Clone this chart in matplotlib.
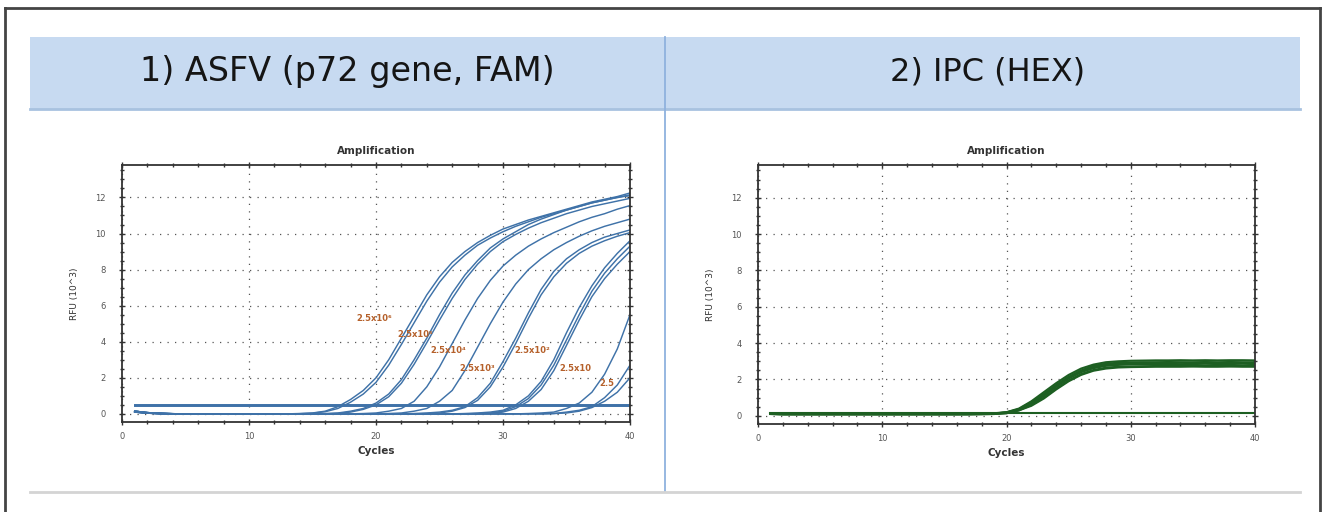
import matplotlib
matplotlib.use("Agg")
import matplotlib.pyplot as plt
from matplotlib.patches import Rectangle
from matplotlib.lines import Line2D
from matplotlib.ticker import MultipleLocator

# ── data (RFU x10^3, one value per cycle) ─────────────────────────────────────
CYCLES = list(range(1, 41))

# left panel: ASFV p72 dilution series (FAM)
asfv_a1 = [0.15, 0.07, 0.03, 0.01, 0.0, 0.0, 0.0, 0.0, 0.0, 0.0,
           0.0, 0.0, 0.0, 0.02, 0.05, 0.15, 0.4, 0.8, 1.3, 2.0,
           3.0, 4.2, 5.4, 6.6, 7.6, 8.4, 9.0, 9.5, 9.9, 10.25,
           10.5, 10.75, 10.95, 11.15, 11.35, 11.55, 11.75, 11.9, 12.05, 12.25]
asfv_a2 = [0.12, 0.05, 0.02, 0.0, 0.0, 0.0, 0.0, 0.0, 0.0, 0.0,
           0.0, 0.0, 0.0, 0.01, 0.04, 0.12, 0.3, 0.65, 1.1, 1.75,
           2.7, 3.85, 5.05, 6.25, 7.3, 8.15, 8.8, 9.35, 9.75, 10.1,
           10.4, 10.65, 10.9, 11.1, 11.3, 11.5, 11.7, 11.85, 12.0, 12.15]
asfv_b1 = [0.15, 0.07, 0.03, 0.01, 0.0, 0.0, 0.0, 0.0, 0.0, 0.0,
           0.0, 0.0, 0.0, 0.0, 0.0, 0.02, 0.05, 0.15, 0.3, 0.6,
           1.1, 1.9, 3.0, 4.2, 5.5, 6.7, 7.7, 8.5, 9.2, 9.7,
           10.1, 10.5, 10.8, 11.05, 11.3, 11.5, 11.7, 11.85, 12.0, 12.1]
asfv_b2 = [0.1, 0.04, 0.01, 0.0, 0.0, 0.0, 0.0, 0.0, 0.0, 0.0,
           0.0, 0.0, 0.0, 0.0, 0.0, 0.0, 0.03, 0.1, 0.25, 0.5,
           0.95, 1.7, 2.75, 3.95, 5.2, 6.4, 7.45, 8.3, 9.0, 9.55,
           9.95, 10.3, 10.6, 10.85, 11.1, 11.3, 11.5, 11.65, 11.8, 11.95]
asfv_c1 = [0.15, 0.07, 0.03, 0.01, 0.0, 0.0, 0.0, 0.0, 0.0, 0.0,
           0.0, 0.0, 0.0, 0.0, 0.0, 0.0, 0.0, 0.0, 0.02, 0.05,
           0.15, 0.3, 0.7, 1.5, 2.6, 3.9, 5.2, 6.4, 7.4, 8.2,
           8.8, 9.3, 9.7, 10.05, 10.35, 10.65, 10.9, 11.1, 11.35, 11.55]
asfv_d1 = [0.12, 0.05, 0.02, 0.0, 0.0, 0.0, 0.0, 0.0, 0.0, 0.0,
           0.0, 0.0, 0.0, 0.0, 0.0, 0.0, 0.0, 0.0, 0.0, 0.0,
           0.02, 0.05, 0.15, 0.3, 0.7, 1.3, 2.4, 3.7, 5.0, 6.2,
           7.2, 8.0, 8.6, 9.1, 9.5, 9.85, 10.15, 10.4, 10.6, 10.8]
asfv_e1 = [0.15, 0.07, 0.03, 0.01, 0.0, 0.0, 0.0, 0.0, 0.0, 0.0,
           0.0, 0.0, 0.0, 0.0, 0.0, 0.0, 0.0, 0.0, 0.0, 0.0,
           0.0, 0.0, 0.02, 0.05, 0.1, 0.2, 0.4, 0.9, 1.7, 2.9,
           4.2, 5.6, 6.9, 7.9, 8.6, 9.1, 9.5, 9.8, 10.0, 10.2]
asfv_e2 = [0.1, 0.04, 0.01, 0.0, 0.0, 0.0, 0.0, 0.0, 0.0, 0.0,
           0.0, 0.0, 0.0, 0.0, 0.0, 0.0, 0.0, 0.0, 0.0, 0.0,
           0.0, 0.0, 0.0, 0.02, 0.05, 0.15, 0.35, 0.75, 1.5, 2.6,
           3.9, 5.3, 6.6, 7.6, 8.35, 8.9, 9.3, 9.6, 9.85, 10.05]
asfv_f1 = [0.15, 0.07, 0.03, 0.01, 0.0, 0.0, 0.0, 0.0, 0.0, 0.0,
           0.0, 0.0, 0.0, 0.0, 0.0, 0.0, 0.0, 0.0, 0.0, 0.0,
           0.0, 0.0, 0.0, 0.0, 0.0, 0.0, 0.02, 0.05, 0.1, 0.2,
           0.5, 1.0, 1.8, 3.0, 4.5, 5.9, 7.1, 8.1, 8.9, 9.6]
asfv_f2 = [0.12, 0.05, 0.02, 0.0, 0.0, 0.0, 0.0, 0.0, 0.0, 0.0,
           0.0, 0.0, 0.0, 0.0, 0.0, 0.0, 0.0, 0.0, 0.0, 0.0,
           0.0, 0.0, 0.0, 0.0, 0.0, 0.0, 0.0, 0.02, 0.05, 0.15,
           0.4, 0.85, 1.6, 2.7, 4.1, 5.5, 6.8, 7.8, 8.6, 9.3]
asfv_f3 = [0.1, 0.04, 0.01, 0.0, 0.0, 0.0, 0.0, 0.0, 0.0, 0.0,
           0.0, 0.0, 0.0, 0.0, 0.0, 0.0, 0.0, 0.0, 0.0, 0.0,
           0.0, 0.0, 0.0, 0.0, 0.0, 0.0, 0.0, 0.0, 0.03, 0.1,
           0.3, 0.7, 1.35, 2.4, 3.8, 5.2, 6.5, 7.5, 8.3, 9.0]
asfv_g1 = [0.15, 0.07, 0.03, 0.01, 0.0, 0.0, 0.0, 0.0, 0.0, 0.0,
           0.0, 0.0, 0.0, 0.0, 0.0, 0.0, 0.0, 0.0, 0.0, 0.0,
           0.0, 0.0, 0.0, 0.0, 0.0, 0.0, 0.0, 0.0, 0.0, 0.0,
           0.0, 0.02, 0.05, 0.1, 0.3, 0.6, 1.2, 2.2, 3.6, 5.5]
asfv_g2 = [0.12, 0.05, 0.02, 0.0, 0.0, 0.0, 0.0, 0.0, 0.0, 0.0,
           0.0, 0.0, 0.0, 0.0, 0.0, 0.0, 0.0, 0.0, 0.0, 0.0,
           0.0, 0.0, 0.0, 0.0, 0.0, 0.0, 0.0, 0.0, 0.0, 0.0,
           0.0, 0.0, 0.0, 0.02, 0.1, 0.2, 0.4, 0.9, 1.6, 2.7]
asfv_g3 = [0.1, 0.04, 0.01, 0.0, 0.0, 0.0, 0.0, 0.0, 0.0, 0.0,
           0.0, 0.0, 0.0, 0.0, 0.0, 0.0, 0.0, 0.0, 0.0, 0.0,
           0.0, 0.0, 0.0, 0.0, 0.0, 0.0, 0.0, 0.0, 0.0, 0.0,
           0.0, 0.0, 0.0, 0.02, 0.05, 0.15, 0.35, 0.7, 1.2, 2.0]
ASFV_CURVES = [asfv_a1, asfv_a2, asfv_b1, asfv_b2, asfv_c1, asfv_d1,
               asfv_e1, asfv_e2, asfv_f1, asfv_f2, asfv_f3,
               asfv_g1, asfv_g2, asfv_g3]
ASFV_FLAT = [0.42, 0.5]          # the two flat traces near the baseline

# copy-number labels and where they sit (cycle, RFU)
DIL_LABELS = ["2.5x10\u2076", "2.5x10\u2075", "2.5x10\u2074", "2.5x10\u00b3",
              "2.5x10\u00b2", "2.5x10", "2.5"]
DIL_X = [19.9, 23.1, 25.7, 28.0, 32.3, 35.7, 38.2]
DIL_Y = [5.3, 4.4, 3.5, 2.5, 3.5, 2.5, 1.7]

# right panel: internal positive control (HEX)
ipc_1 = [0.12, 0.1, 0.1, 0.1, 0.1, 0.1, 0.1, 0.1, 0.1, 0.1,
         0.1, 0.1, 0.1, 0.1, 0.1, 0.1, 0.1, 0.1, 0.12, 0.18,
         0.35, 0.7, 1.15, 1.65, 2.1, 2.45, 2.68, 2.8, 2.87, 2.9,
         2.9, 2.91, 2.9, 2.92, 2.9, 2.91, 2.9, 2.92, 2.91, 2.9]
ipc_2 = [0.14, 0.12, 0.12, 0.11, 0.11, 0.11, 0.11, 0.11, 0.11, 0.11,
         0.11, 0.11, 0.11, 0.11, 0.11, 0.11, 0.11, 0.12, 0.14, 0.2,
         0.4, 0.8, 1.3, 1.8, 2.25, 2.6, 2.82, 2.95, 3.0, 3.03,
         3.04, 3.05, 3.05, 3.06, 3.05, 3.06, 3.05, 3.06, 3.06, 3.05]
ipc_3 = [0.1, 0.08, 0.08, 0.08, 0.08, 0.08, 0.08, 0.08, 0.08, 0.08,
         0.08, 0.08, 0.08, 0.08, 0.08, 0.08, 0.08, 0.09, 0.1, 0.15,
         0.3, 0.6, 1.0, 1.5, 1.95, 2.3, 2.52, 2.65, 2.7, 2.72,
         2.73, 2.74, 2.74, 2.75, 2.74, 2.75, 2.75, 2.74, 2.75, 2.75]
ipc_4 = [0.13, 0.11, 0.1, 0.1, 0.1, 0.1, 0.1, 0.1, 0.1, 0.1,
         0.1, 0.1, 0.1, 0.1, 0.1, 0.1, 0.1, 0.11, 0.13, 0.18,
         0.33, 0.65, 1.1, 1.6, 2.05, 2.4, 2.62, 2.75, 2.8, 2.83,
         2.84, 2.85, 2.85, 2.84, 2.85, 2.86, 2.85, 2.85, 2.86, 2.85]
ipc_5 = [0.11, 0.09, 0.09, 0.09, 0.09, 0.09, 0.09, 0.09, 0.09, 0.09,
         0.09, 0.09, 0.09, 0.09, 0.09, 0.09, 0.1, 0.11, 0.13, 0.19,
         0.37, 0.75, 1.2, 1.7, 2.15, 2.5, 2.75, 2.87, 2.92, 2.94,
         2.95, 2.95, 2.96, 2.95, 2.95, 2.96, 2.95, 2.96, 2.95, 2.95]
ipc_6 = [0.1, 0.08, 0.08, 0.08, 0.08, 0.08, 0.08, 0.08, 0.08, 0.08,
         0.08, 0.08, 0.08, 0.08, 0.08, 0.08, 0.08, 0.09, 0.1, 0.14,
         0.3, 0.55, 0.95, 1.45, 1.9, 2.25, 2.48, 2.6, 2.66, 2.68,
         2.69, 2.7, 2.7, 2.7, 2.71, 2.7, 2.7, 2.71, 2.7, 2.7]
IPC_CURVES = [ipc_1, ipc_2, ipc_3, ipc_4, ipc_5, ipc_6]
IPC_FLAT = [0.18]

PANEL_TITLES = ["1) ASFV (p72 gene, FAM)", "2) IPC (HEX)"]

# ── styling ───────────────────────────────────────────────────────────────────
W, H = 1324, 512
BLUE = "#3f72a8"
GREEN = "#1d5f22"
LABEL_C = "#b5602a"
BAND_C = "#c7daf1"
DIV_C = "#8fb2de"
YLIM = (-0.45, 13.8)


def fx(px):
    return px / W


def fy(py):
    return 1 - py / H


def style_axes(ax):
    ax.set_xlim(0, 40)
    ax.set_ylim(*YLIM)
    ax.xaxis.set_major_locator(MultipleLocator(10))
    ax.xaxis.set_minor_locator(MultipleLocator(2))
    ax.yaxis.set_major_locator(MultipleLocator(2))
    ax.yaxis.set_minor_locator(MultipleLocator(0.5))
    ax.tick_params(which="both", direction="inout", top=True, right=True,
                   color="#333333", width=1.0)
    ax.tick_params(which="major", length=5, labelsize=6, labelcolor="#555555",
                   labeltop=False, labelright=False)
    ax.tick_params(axis="x", which="major", pad=5)
    ax.tick_params(axis="y", which="major", pad=9)
    ax.tick_params(which="minor", length=3)
    for s in ax.spines.values():
        s.set_color("#333333")
        s.set_linewidth(1.3)
    ax.grid(True, which="major", color="#555555", linestyle=(0, (1, 5)),
            linewidth=0.9)
    ax.set_title("Amplification", fontsize=7.5, fontweight="bold",
                 color="#333333", pad=8)
    ax.set_xlabel("Cycles", fontsize=7.5, fontweight="bold", color="#333333",
                  labelpad=3)
    ax.set_ylabel("RFU (10^3)", fontsize=6.5, color="#333333", labelpad=12)


fig = plt.figure(figsize=(W / 100, H / 100), dpi=100)

# frame, header band, dividers
fig.add_artist(Line2D([fx(5), fx(5)], [0, fy(8)], color="#444444", lw=2))
fig.add_artist(Line2D([fx(1320), fx(1320)], [0, fy(8)], color="#444444", lw=2))
fig.add_artist(Line2D([fx(5), fx(1320)], [fy(8), fy(8)], color="#444444", lw=2))
fig.add_artist(Rectangle((fx(30), fy(110)), fx(1270), 73 / H,
                         facecolor=BAND_C, edgecolor="none"))
fig.add_artist(Line2D([fx(30), fx(1300)], [fy(109), fy(109)],
                      color="#a8c2e0", lw=2))
fig.add_artist(Line2D([fx(665), fx(665)], [fy(37), fy(492)], color=DIV_C, lw=1.3))
fig.add_artist(Line2D([fx(30), fx(1300)], [fy(492), fy(492)],
                      color="#d4d4d4", lw=2))

fig.text(fx(347), fy(72), PANEL_TITLES[0], ha="center", va="center",
         fontsize=24, family="DejaVu Sans", color="#151515")
fig.text(fx(988), fy(72), PANEL_TITLES[1], ha="center", va="center",
         fontsize=23, family="DejaVu Sans", color="#151515")

# left panel
ax1 = fig.add_axes([fx(122), fy(422), fx(630 - 122), (422 - 165) / H])
style_axes(ax1)
for level in ASFV_FLAT:
    ax1.plot(CYCLES, [level] * len(CYCLES), color=BLUE, lw=1.4)
for ys in ASFV_CURVES:
    ax1.plot(CYCLES, ys, color=BLUE, lw=1.05)
for txt, x, y in zip(DIL_LABELS, DIL_X, DIL_Y):
    ax1.text(x, y, txt, ha="center", va="center", fontsize=6,
             fontweight="bold", color=LABEL_C)

# right panel
ax2 = fig.add_axes([fx(758), fy(424), fx(1255 - 758), (424 - 165) / H])
style_axes(ax2)
for level in IPC_FLAT:
    ax2.plot(CYCLES, [level] * len(CYCLES), color=GREEN, lw=1.5)
for ys in IPC_CURVES:
    ax2.plot(CYCLES, ys, color=GREEN, lw=1.5)

fig.savefig("out.png", dpi=100)
